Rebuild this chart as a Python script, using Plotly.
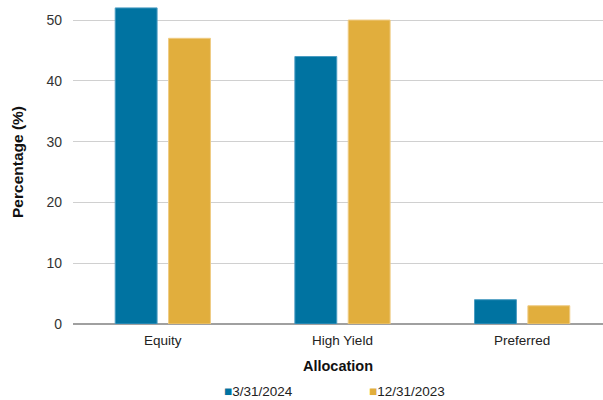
import plotly.graph_objects as go

# Allocation by asset class at two reporting dates
categories = ["Equity", "High Yield", "Preferred"]
series_names = ["3/31/2024", "12/31/2023"]
values_mar_2024 = [52, 44, 4]
values_dec_2023 = [47, 50, 3]
y_ticks = [0, 10, 20, 30, 40, 50]

blue = "#0073A1"
gold = "#E1AE3D"

fig = go.Figure()
fig.add_trace(go.Bar(
    x=categories, y=values_mar_2024, name=series_names[0],
    marker=dict(color=blue, line=dict(color="#4A9CC2", width=1)),
))
fig.add_trace(go.Bar(
    x=categories, y=values_dec_2023, name=series_names[1],
    marker=dict(color=gold, line=dict(color="#EFCB83", width=1)),
))

fig.update_layout(
    width=603, height=400,
    margin=dict(l=73, r=0, t=0, b=76),
    paper_bgcolor="white", plot_bgcolor="white",
    barmode="group", bargap=0.406, bargroupgap=0.215,
    showlegend=False,
    font=dict(family="Liberation Sans, Arial, sans-serif", color="#333333", size=13),
)

fig.update_xaxes(
    range=[-0.5, 2.45],
    showgrid=False, showline=False, zeroline=False,
    ticklabelstandoff=6,
    tickfont=dict(size=13.5, color="#222222"),
    title=dict(text="<b>Allocation</b>", font=dict(size=14.5, color="#111111"), standoff=14),
)
fig.update_yaxes(
    range=[0, 53.3], tickvals=y_ticks,
    showgrid=True, gridcolor="#D0D0D0", gridwidth=1,
    zeroline=True, zerolinecolor="#A0A0A0", zerolinewidth=1.5,
    showline=False, ticklabelstandoff=10,
    tickfont=dict(size=14, color="#333333"),
    title=dict(text="<b>Percentage (%)</b>", font=dict(size=15.5, color="#111111"), standoff=18),
)

# Legend row along the bottom edge
legend_x = [0.282, 0.554]
for name, color, lx in zip(series_names, [blue, gold], legend_x):
    fig.add_annotation(
        xref="paper", yref="paper", x=lx, y=-67 / 324,
        xanchor="left", yanchor="middle", showarrow=False,
        text=f"<span style='color:{color}'>■</span>{name}",
        font=dict(size=13.5, color="#222222"),
    )

fig.write_html("out.html")
